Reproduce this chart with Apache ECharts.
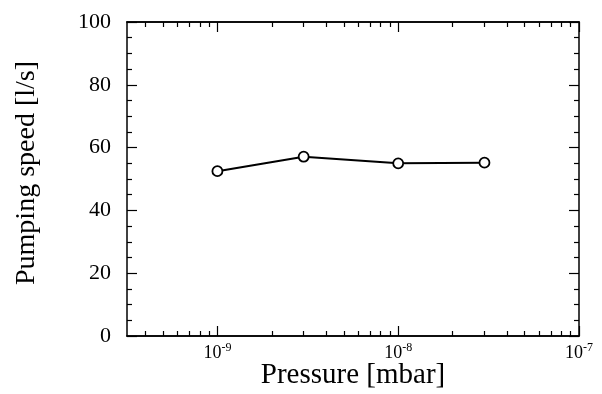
<!DOCTYPE html>
<html>
<head>
<meta charset="utf-8">
<script src="https://cdn.jsdelivr.net/npm/echarts@6/dist/echarts.min.js"></script>
<style>
  html, body { margin: 0; padding: 0; background: #fff; }
  #main { width: 602px; height: 394px; }
</style>
</head>
<body>
<div id="main"></div>
<script>
// pumping speed vs pressure
var pressure = [1e-9, 3e-9, 1e-8, 3e-8];
var speed = [52.5, 57.1, 55.0, 55.2];

var xMajorTicks = [1e-9, 1e-8, 1e-7];
var xMinorTicks = [];
[-10, -9, -8].forEach(function (e) {
    for (var m = 2; m <= 9; m++) {
        var v = m * Math.pow(10, e);
        if (v > 3.2e-10) xMinorTicks.push(v);
    }
});

var xMin = Math.pow(10, -9.5);
var xMax = 1e-7;
var font = 'Liberation Serif';

var myChart = echarts.init(document.getElementById('main'));

function expLabel(value) {
    var e = Math.round(Math.log(value) / Math.LN10);
    return '{b|10}{s|' + e + '}';
}

function logAxis(pos, ticks, len, withLabel) {
    return {
        type: 'log',
        position: pos,
        min: xMin,
        max: xMax,
        axisLine: { show: true, onZero: false, lineStyle: { color: '#000', width: 1.5 } },
        axisTick: {
            show: true, inside: true, length: len,
            customValues: ticks,
            lineStyle: { color: '#000', width: 1.2 }
        },
        axisLabel: withLabel ? {
            show: true,
            customValues: ticks,
            margin: 6,
            formatter: expLabel,
            rich: {
                b: { fontFamily: font, fontSize: 18, color: '#000' },
                s: { fontFamily: font, fontSize: 12, color: '#000', verticalAlign: 'top', padding: [0, 0, 11, 0] }
            }
        } : { show: false },
        splitLine: { show: false },
        minorTick: { show: false }
    };
}

var option = {
    backgroundColor: '#fff',
    animation: false,
    grid: { left: 127, top: 22, right: 23, bottom: 58, containLabel: false, outerBoundsMode: 'none' },
    xAxis: [
        Object.assign(logAxis('bottom', xMajorTicks, 10, true), {
            name: 'Pressure [mbar]',
            nameLocation: 'middle',
            nameGap: 25,
            nameMoveOverlap: false,
            nameTextStyle: { fontFamily: font, fontSize: 29, color: '#000' }
        }),
        logAxis('bottom', xMinorTicks, 5, false),
        logAxis('top', xMajorTicks, 10, false),
        logAxis('top', xMinorTicks, 5, false)
    ],
    yAxis: [
        {
            type: 'value',
            position: 'left',
            min: 0, max: 100, interval: 20,
            name: 'Pumping speed [l/s]',
            nameLocation: 'middle',
            nameGap: 86,
            nameTextStyle: { fontFamily: font, fontSize: 28, color: '#000', padding: [0, 0, 0, 12] },
            axisLine: { show: true, onZero: false, lineStyle: { color: '#000', width: 1.5 } },
            axisTick: { show: true, inside: true, length: 10, lineStyle: { color: '#000', width: 1.2 } },
            minorTick: { show: true, splitNumber: 4, length: 5, lineStyle: { color: '#000', width: 1.2 } },
            axisLabel: { fontFamily: font, fontSize: 22, color: '#000', margin: 16 },
            splitLine: { show: false }
        },
        {
            type: 'value',
            position: 'right',
            min: 0, max: 100, interval: 20,
            axisLine: { show: true, onZero: false, lineStyle: { color: '#000', width: 1.5 } },
            axisTick: { show: true, inside: true, length: 10, lineStyle: { color: '#000', width: 1.2 } },
            minorTick: { show: true, splitNumber: 4, length: 5, lineStyle: { color: '#000', width: 1.2 } },
            axisLabel: { show: false },
            splitLine: { show: false }
        }
    ],
    series: [
        {
            type: 'line',
            xAxisIndex: 0,
            yAxisIndex: 0,
            data: pressure.map(function (p, i) { return [p, speed[i]]; }),
            symbol: 'circle',
            symbolSize: 10,
            lineStyle: { color: '#000', width: 2 },
            itemStyle: { color: '#fff', borderColor: '#000', borderWidth: 1.8 }
        }
    ]
};

myChart.setOption(option);
</script>
</body>
</html>
